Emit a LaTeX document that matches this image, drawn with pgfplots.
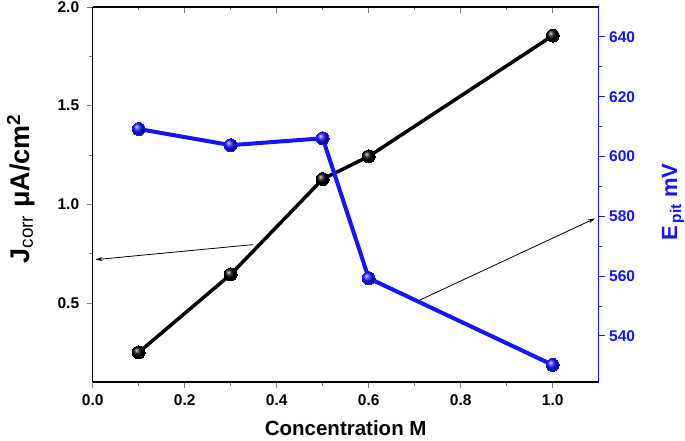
\documentclass[border=0pt]{standalone}
\usepackage{pgfplots}
\pgfplotsset{compat=1.18}
\usepackage{fontspec}
\setmainfont{Liberation Sans}
\usetikzlibrary{arrows.meta}
\definecolor{pblue}{RGB}{20,20,255}
\pgfplotsset{
  base/.style={
    scale only axis, width=506pt, height=375pt,
    at={(0pt,0pt)}, anchor=south west,
    xmin=0, xmax=1.1,
    xtick={0,0.2,0.4,0.6,0.8,1.0}, minor x tick num=1,
    major tick length=6pt, minor tick length=3.5pt,
    tick style={line width=1pt},
    axis line style={line width=1.2pt},
    /pgf/number format/assume math mode=true,
    /pgf/number format/.cd, fixed, fixed zerofill, precision=1, /pgfplots/.cd,
    ticklabel style={font=\bfseries\fontsize{15.5}{15.5}\selectfont},
    clip=false,
  }
}
\begin{document}
\begin{tikzpicture}
\useasboundingbox (-92.7pt,-58pt) rectangle (592.3pt,382pt);
% top ticks (inside)
\begin{axis}[base, axis x line*=top, axis y line=none, tick align=inside,
  xticklabels={}, ymin=0, ymax=1]
\end{axis}
% left axis
\begin{axis}[base, axis x line*=bottom, axis y line*=left, tick align=outside,
  ymin=0.1, ymax=2.0, ytick={0.5,1.0,1.5,2.0}, minor y tick num=1,
  xticklabel style={yshift=-3pt},
  yticklabel style={xshift=-4pt},
  xlabel={\bfseries\fontsize{20.5}{20.5}\selectfont Concentration M},
  xlabel style={at={(axis description cs:0.5,-0.124)}, anchor=center},
  ylabel={\bfseries\fontsize{27}{27}\selectfont J\textsubscript{\mdseries corr} μA/cm\textsuperscript{2}},
  ylabel style={at={(axis description cs:-0.142,0.515)}, anchor=center, rotate=0},
]
\addplot[black, line width=3.5pt, mark=ball, mark size=6.5pt, mark options={ball color=black, line width=0pt}]
  coordinates {(0.1,0.25) (0.3,0.645) (0.5,1.128) (0.6,1.243) (1.0,1.855)};
\draw[black, line width=0.8pt, -{Stealth[length=7pt,width=4pt]}] (axis cs:0.348,0.796) -- (axis cs:0.006,0.72);
\end{axis}
% right axis
\begin{axis}[base, axis x line=none, axis y line*=right, tick align=outside,
  ymin=524.6, ymax=650, ytick={540,560,580,600,620,640}, minor y tick num=1,
  /pgf/number format/.cd, fixed, precision=0, /pgfplots/.cd,
  y axis line style={pblue, line width=1.2pt},
  ytick style={pblue, line width=1pt},
  yticklabel style={pblue, xshift=1pt},
  ylabel={\color{pblue}\bfseries\fontsize{22}{22}\selectfont E\textsubscript{\,pit} mV},
  ylabel style={at={(axis description cs:1.147,0.48)}, anchor=center},
]
\addplot[pblue, line width=4pt, mark=ball, mark size=6.5pt, mark options={ball color=pblue, line width=0pt}]
  coordinates {(0.1,609.2) (0.3,603.8) (0.5,606.1) (0.6,559.3) (1.0,530.3)};
\draw[black, line width=0.8pt, -{Stealth[length=7pt,width=4pt]}] (axis cs:0.711,552) -- (axis cs:1.092,579.3);
\end{axis}
\end{tikzpicture}
\end{document}
